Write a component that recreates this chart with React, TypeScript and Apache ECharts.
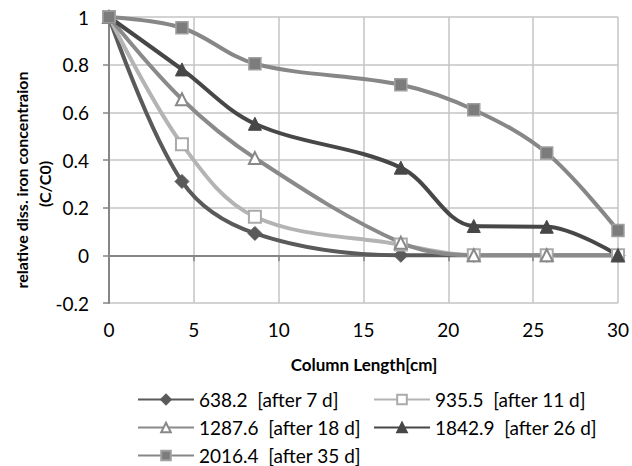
import React, { useEffect, useRef } from "react";
import * as echarts from "echarts";

// Column length positions (cm) at which samples were taken
const lengths = [0, 4.3, 8.6, 17.2, 21.5, 25.8, 30];

// Relative dissolved iron concentration C/C0 per run
const run638 = [1, 0.31, 0.092, 0, 0, 0, 0];
const run935 = [1, 0.466, 0.162, 0.045, 0, 0, 0];
const run1287 = [1, 0.655, 0.408, 0.053, 0, 0, 0];
const run1842 = [1, 0.78, 0.552, 0.368, 0.123, 0.12, 0];
const run2016 = [1, 0.955, 0.804, 0.716, 0.611, 0.429, 0.104];

const seriesNames = [
  "638.2  [after 7 d]",
  "935.5  [after 11 d]",
  "1287.6  [after 18 d]",
  "1842.9  [after 26 d]",
  "2016.4  [after 35 d]",
];

const yTicks = [-0.2, 0, 0.2, 0.4, 0.6, 0.8, 1];

const FONT = "Lato";

function pairs(ys: number[]) {
  return lengths.map((x, i) => [x, ys[i]]);
}

export default function App() {
  const ref = useRef<HTMLDivElement>(null);

  useEffect(() => {
    if (!ref.current) return;
    const chart = echarts.init(ref.current, undefined, { renderer: "svg" });

    const line = (
      name: string,
      ys: number[],
      color: string,
      symbol: string,
      fill: string,
      border: string,
      size: number,
      width: number
    ) => ({
      type: "line",
      name,
      data: pairs(ys),
      smooth: 0.35,
      symbol,
      symbolSize: size,
      lineStyle: { color, width: 4 },
      itemStyle: { color: fill, borderColor: border, borderWidth: width },
      emphasis: { disabled: true },
    });

    const legendAt = (name: string, left: number, top: number) => ({
      data: [name],
      left,
      top,
      padding: 0,
      itemWidth: 56,
      itemHeight: 12,
      itemGap: 4,
      textStyle: { fontFamily: FONT, fontSize: 19, color: "#000" },
      selectedMode: false,
    });

    const title = (text: string, x: number, y: number, size: number, rotation = 0) => ({
      type: "text",
      x,
      y,
      rotation,
      style: {
        text,
        font: `bold ${size}px ${FONT}`,
        fill: "#000",
        align: "center",
        verticalAlign: "middle",
      },
    });

    chart.setOption({
      animation: false,
      backgroundColor: "#fff",
      grid: { left: 109, right: 13, top: 17, bottom: 163 },
      xAxis: {
        type: "value",
        min: 0,
        max: 30,
        interval: 5,
        axisLine: { lineStyle: { color: "#868686", width: 2 } },
        axisTick: { show: true, length: 6, inside: false, lineStyle: { color: "#868686", width: 1.5 } },
        axisLabel: { fontFamily: FONT, fontSize: 19, color: "#000", margin: 17 },
        splitLine: { show: true, lineStyle: { color: "#c4c4c4", width: 1.5 } },
      },
      yAxis: {
        type: "value",
        min: yTicks[0],
        max: yTicks[yTicks.length - 1],
        interval: 0.2,
        axisLine: { show: true, lineStyle: { color: "#868686", width: 2 } },
        axisTick: { show: true, length: 6, inside: false, lineStyle: { color: "#868686", width: 1.5 } },
        axisLabel: {
          fontFamily: FONT,
          fontSize: 19,
          color: "#000",
          margin: 20,
          formatter: (v: number) => String(Math.round(v * 10) / 10),
        },
        splitLine: { show: true, lineStyle: { color: "#c4c4c4", width: 1.5 } },
      },
      legend: [
        legendAt(seriesNames[0], 137, 390),
        legendAt(seriesNames[1], 373, 390),
        legendAt(seriesNames[2], 137, 418),
        legendAt(seriesNames[3], 373, 418),
        legendAt(seriesNames[4], 137, 446),
      ],
      graphic: [
        title("Column Length[cm]", 364, 364, 17),
        title("relative diss. iron concentraion", 21, 180, 16, Math.PI / 2),
        title("(C/C0)", 44, 184, 16, Math.PI / 2),
      ],
      series: [
        line(seriesNames[0], run638, "#5a5a5a", "diamond", "#5a5a5a", "#5a5a5a", 14, 1),
        line(seriesNames[1], run935, "#b4b4b4", "rect", "#ffffff", "#aaaaaa", 12, 2),
        line(seriesNames[2], run1287, "#8a8a8a", "triangle", "#ffffff", "#888888", 12, 2),
        line(seriesNames[3], run1842, "#474747", "triangle", "#474747", "#474747", 13, 1),
        line(seriesNames[4], run2016, "#878787", "rect", "#7c7c7c", "#a0a0a0", 12, 1.5),
      ],
    });

    return () => chart.dispose();
  }, []);

  return <div ref={ref} style={{ width: 632, height: 466, position: "absolute", left: 0, top: 0 }} />;
}
